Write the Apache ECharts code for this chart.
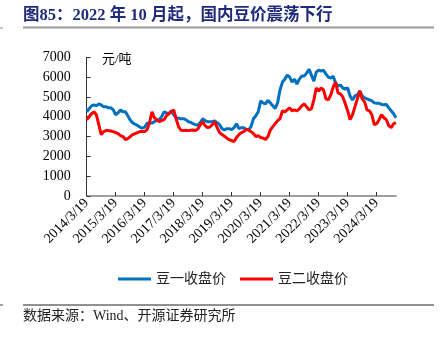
<!DOCTYPE html>
<html><head><meta charset="utf-8">
<script src="https://cdn.jsdelivr.net/npm/echarts@6/dist/echarts.min.js"></script>
<style>html,body{margin:0;padding:0;background:#fff}#c{width:446px;height:338px}</style>
</head><body><div id="c"></div>
<script>
// Monthly closes, starting 2014/3/19 and ending 2024/11/19
var startYear = 2014, startMonth = 3, day = 19;
var tickLabels = ['2014/3/19','2015/3/19','2016/3/19','2017/3/19','2018/3/19','2019/3/19','2020/3/19','2021/3/19','2022/3/19','2023/3/19','2024/3/19'];
var soy1 = [4250,4400,4550,4600,4550,4650,4600,4500,4510,4450,4450,4350,
  4100,4200,4340,4250,4250,4050,3840,3700,3620,3560,3480,3420,
  3480,3670,3700,3680,3750,3800,3850,4000,4250,4200,4150,4300,
  4100,3950,3930,3900,3900,3850,3750,3720,3650,3600,3580,3700,
  3900,3800,3750,3750,3760,3780,3700,3600,3400,3330,3400,3400,
  3350,3450,3650,3400,3450,3450,3350,3340,3500,3900,4050,4250,
  4800,4700,4650,4820,4700,4550,4420,4700,5350,5750,5900,6100,
  6000,5750,5900,5650,5900,6050,6050,6200,6400,6100,5800,6250,
  6350,6300,6350,6150,6000,5950,6050,5700,5550,5600,5450,5400,
  5450,5050,4850,5050,5100,5300,5050,4950,4900,4850,4800,4700,
  4680,4680,4620,4600,4620,4450,4300,4150,3950];
var soy2 = [3840,4000,4150,4250,4100,3600,3100,3250,3300,3300,3280,3250,
  3200,3150,3050,3000,2850,2900,3000,3100,3150,3200,3250,3250,
  3250,3350,3700,4250,3950,3850,3750,3800,3850,4050,4150,4250,
  4350,3900,3500,3320,3300,3320,3300,3320,3330,3300,3380,3600,
  3750,3550,3450,3480,3600,3750,3450,3200,3100,3020,2920,2840,
  2800,2750,2950,3100,3200,3250,3370,3320,3250,3150,3000,3050,
  2950,2920,2850,3000,3330,3500,3650,3800,3900,4300,4250,4350,
  4450,4300,4350,4300,4400,4550,4650,4500,4350,4400,4850,5450,
  5300,5450,5350,4900,4850,5100,5500,5750,5200,5150,5000,4650,
  4300,3850,4100,4500,4900,5300,4900,4750,4350,4300,4100,3600,
  3650,3850,4100,3950,3850,3550,3450,3650,3700];
var seriesNames = ['豆一收盘价','豆二收盘价'];

var categories = [];
for (var i = 0; i < soy1.length; i++) {
  var mm = startMonth - 1 + i;
  categories.push((startYear + Math.floor(mm / 12)) + '/' + (mm % 12 + 1) + '/' + day);
}
var serif = '"Liberation Serif","Noto Sans CJK SC",serif';
var chart = echarts.init(document.getElementById('c'));
chart.setOption({
  animation: false,
  backgroundColor: '#fff',
  grid: {left: 86.7, right: 50, top: 57.3, bottom: 142, containLabel: false},
  xAxis: {
    type: 'category', data: categories, boundaryGap: false,
    axisLine: {lineStyle: {color: '#808080', width: 1.5}},
    axisTick: {inside: true, length: 4, interval: 11, lineStyle: {color: '#333'}},
    axisLabel: {interval: 11, rotate: 45, margin: 5, fontFamily: serif, fontSize: 14, color: '#000',
      formatter: function (v, idx) { return tickLabels[idx / 12] || v; }},
    splitLine: {show: false}
  },
  yAxis: {
    type: 'value', min: 0, max: 7000, interval: 1000,
    axisLine: {show: true, lineStyle: {color: '#333', width: 1}},
    axisTick: {show: true, inside: true, length: 4, lineStyle: {color: '#333'}},
    axisLabel: {margin: 16, fontFamily: serif, fontSize: 14, color: '#000',
      formatter: function (v) { return String(v); }},
    splitLine: {show: false}
  },
  legend: {
    left: 113, top: 267, itemWidth: 33, itemHeight: 3, itemGap: 14,
    icon: 'rect',
    textStyle: {fontFamily: serif, fontSize: 14, color: '#222'},
    data: seriesNames
  },
  series: [
    {name: seriesNames[0], type: 'line', data: soy1, showSymbol: false, symbol: 'none',
     lineStyle: {color: '#0070C0', width: 3}, itemStyle: {color: '#0070C0'}},
    {name: seriesNames[1], type: 'line', data: soy2, showSymbol: false, symbol: 'none',
     lineStyle: {color: '#FF0000', width: 3}, itemStyle: {color: '#FF0000'}}
  ],
  graphic: [
    {type: 'text', left: 23, top: 7, style: {text: '图85：2022 年 10 月起，国内豆价震荡下行',
      font: 'bold 16.5px ' + serif, fill: '#1f2a7c'}},
    {type: 'line', shape: {x1: 23, y1: 27.5, x2: 434, y2: 27.5}, style: {stroke: '#999', lineWidth: 2}},
    {type: 'line', shape: {x1: 0, y1: 28, x2: 3, y2: 28}, style: {stroke: '#999', lineWidth: 1}},
    {type: 'text', left: 102, top: 53, style: {text: '元/吨', font: '13px ' + serif, fill: '#000'}},
    {type: 'line', shape: {x1: 23, y1: 305, x2: 434, y2: 305}, style: {stroke: '#222', lineWidth: 1}},
    {type: 'line', shape: {x1: 0, y1: 305, x2: 3, y2: 305}, style: {stroke: '#444', lineWidth: 1}},
    {type: 'text', left: 23, top: 309, style: {text: '数据来源：Wind、开源证券研究所', font: '14px ' + serif, fill: '#222'}}
  ]
});
</script></body></html>
